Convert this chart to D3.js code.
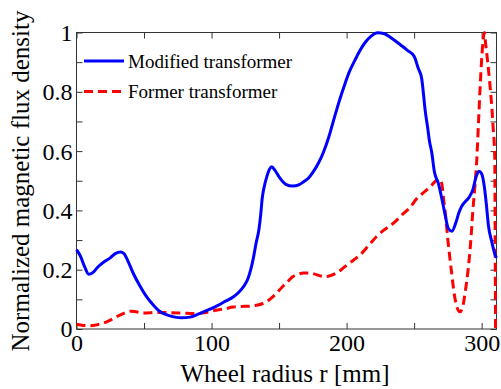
<!DOCTYPE html>
<html>
<head>
<meta charset="utf-8">
<script src="https://cdn.jsdelivr.net/npm/d3@7"></script>
<style>
  html, body { margin: 0; padding: 0; background: #fff; }
  svg { display: block; }
  text { font-family: "Liberation Serif", "Times New Roman", serif; fill: #000; }
</style>
</head>
<body>
<svg id="chart" width="501" height="389"></svg>
<script>
// ---- data ----
const modifiedR = [0,3,6,9,12,16,20,25,29,32.5,35,38,42,47,52,57,62,68,73,78,84,91,98,104,110,116,120,124,127,129,131,133,135,136.5,137.5,139,141,143,144.5,147,150,155,160,165,168,172,175,179,183,187,190,193,196,199,202,206,210,214,218,223,228,232,236,240,245,250,253,255.6,257,258,260,261.5,263,265,268,270.5,273,275.3,278,281,283,285,288,291,293.5,296,298,300,302,303.5,305,307.5,310,311];
const modifiedV = [0.268,0.245,0.21,0.185,0.19,0.21,0.225,0.24,0.255,0.26,0.255,0.23,0.188,0.145,0.108,0.08,0.058,0.046,0.04,0.038,0.04,0.052,0.065,0.078,0.093,0.108,0.123,0.145,0.17,0.2,0.24,0.29,0.333,0.39,0.44,0.48,0.515,0.54,0.547,0.535,0.513,0.488,0.482,0.487,0.496,0.51,0.528,0.558,0.598,0.65,0.698,0.745,0.789,0.83,0.867,0.905,0.94,0.968,0.987,0.999,0.996,0.985,0.972,0.958,0.94,0.92,0.88,0.845,0.79,0.744,0.68,0.63,0.597,0.53,0.49,0.44,0.384,0.339,0.33,0.36,0.39,0.412,0.43,0.446,0.47,0.515,0.532,0.524,0.48,0.42,0.35,0.294,0.25,0.24];

const formerR = [0,5,10,15,20,25,30,35,40,44,50,60,70,80,88,96,103,110,116,122,128,133,138,141,144,148,152,156,160,164,168,172,176,180,184,188,192,196,200,205,210,216,222,228,235,241,247,252,257,262,266.7,269,270.5,272,273,275,277.5,280,282,284,286,288,290,292,293.5,295,296.5,298,299.5,301,302,303,304.5,306,307.5,308.5,309.7,310,310.3];
const formerV = [0.016,0.012,0.011,0.014,0.02,0.03,0.042,0.053,0.06,0.058,0.054,0.056,0.055,0.053,0.052,0.056,0.063,0.068,0.074,0.076,0.077,0.08,0.086,0.093,0.103,0.12,0.14,0.158,0.176,0.184,0.189,0.189,0.186,0.18,0.176,0.18,0.188,0.2,0.215,0.232,0.25,0.28,0.311,0.335,0.358,0.385,0.41,0.44,0.46,0.48,0.502,0.505,0.49,0.43,0.395,0.3,0.2,0.11,0.07,0.058,0.075,0.13,0.2,0.3,0.4,0.48,0.58,0.73,0.87,0.97,1.0,0.96,0.9,0.83,0.75,0.68,0.58,0.3,0.0];

const seriesNames = ["Modified transformer", "Former transformer"];
const xTickValues = [0, 50, 100, 150, 200, 250, 300];
const xTickLabels = ["0", "", "100", "", "200", "", "300"];
const yTickValues = [0, 0.1, 0.2, 0.3, 0.4, 0.5, 0.6, 0.7, 0.8, 0.9, 1];
const yTickLabels = ["0", "", "0.2", "", "0.4", "", "0.6", "", "0.8", "", "1"];
const xTitle = "Wheel radius r [mm]";
const yTitle = "Normalized magnetic flux density";

// ---- layout ----
const W = 501, H = 389;
const m = { left: 76.5, top: 32.5, right: 4.5, bottom: 60 };
const svg = d3.select("#chart");

const x = d3.scaleLinear().domain([0, 311]).range([m.left, W - m.right]);
const y = d3.scaleLinear().domain([0, 1]).range([H - m.bottom, m.top]);

const axisColor = "#333";
const tickLen = 6;

function styleAxis(g) {
  g.select(".domain").remove();
  g.selectAll(".tick line").attr("stroke", axisColor).attr("stroke-width", 1);
  g.selectAll(".tick text").style("font-size", "24px").attr("fill", "#000");
}

// bottom
svg.append("g").attr("transform", `translate(0,${y(0)})`)
  .call(d3.axisBottom(x).tickValues(xTickValues).tickSize(-tickLen).tickPadding(5)
    .tickFormat((d, i) => xTickLabels[i]))
  .call(styleAxis)
  .call(g => g.selectAll(".tick text").attr("y", 22).attr("dy", 0));
// top
svg.append("g").attr("transform", `translate(0,${y(1)})`)
  .call(d3.axisTop(x).tickValues(xTickValues).tickSize(-tickLen).tickFormat(""))
  .call(styleAxis);
// left
svg.append("g").attr("transform", `translate(${x(0)},0)`)
  .call(d3.axisLeft(y).tickValues(yTickValues).tickSize(-tickLen).tickPadding(4)
    .tickFormat((d, i) => yTickLabels[i]))
  .call(styleAxis)
  .call(g => g.selectAll(".tick text").attr("dy", "0.33em"));
// right
svg.append("g").attr("transform", `translate(${x(311)},0)`)
  .call(d3.axisRight(y).tickValues(yTickValues).tickSize(-tickLen).tickFormat(""))
  .call(styleAxis);

// frame
svg.append("rect")
  .attr("x", x(0)).attr("y", y(1))
  .attr("width", x(311) - x(0)).attr("height", y(0) - y(1))
  .attr("fill", "none").attr("stroke", axisColor).attr("stroke-width", 1);

// lines
const line = d3.line().x(d => x(d[0])).y(d => y(d[1])).curve(d3.curveMonotoneX);
const modData = modifiedR.map((r, i) => [r, modifiedV[i]]);
const forData = formerR.map((r, i) => [r, formerV[i]]);

svg.append("path").datum(forData)
  .attr("d", line).attr("fill", "none")
  .attr("stroke", "#ff0000").attr("stroke-width", 3)
  .attr("stroke-dasharray", "9,5");

svg.append("path").datum(modData)
  .attr("d", line).attr("fill", "none")
  .attr("stroke", "#0000ff").attr("stroke-width", 3)
  .attr("stroke-linejoin", "round");

// legend
const legend = svg.append("g");
const legItems = [
  { name: seriesNames[0], color: "#0000ff", dash: null, yLine: 61 },
  { name: seriesNames[1], color: "#ff0000", dash: "9,5", yLine: 91.5 }
];
legItems.forEach(it => {
  legend.append("line")
    .attr("x1", 84).attr("x2", 124).attr("y1", it.yLine).attr("y2", it.yLine)
    .attr("stroke", it.color).attr("stroke-width", 3)
    .attr("stroke-dasharray", it.dash);
  legend.append("text")
    .attr("x", 128).attr("y", it.yLine + 6.5)
    .style("font-size", "19px")
    .text(it.name);
});

// titles
svg.append("text")
  .attr("x", 285).attr("y", 382)
  .attr("text-anchor", "middle")
  .style("font-size", "25px")
  .text(xTitle);

svg.append("text")
  .attr("transform", "translate(28.5,181) rotate(-90)")
  .attr("text-anchor", "middle")
  .style("font-size", "25px")
  .text(yTitle);
</script>
</body>
</html>
